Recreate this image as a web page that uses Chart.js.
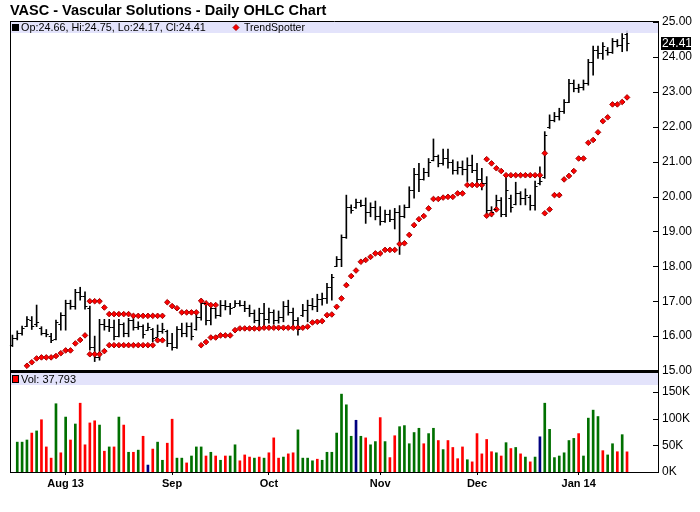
<!DOCTYPE html>
<html><head><meta charset="utf-8">
<script src="https://cdn.jsdelivr.net/npm/chart.js@4.4.0/dist/chart.umd.min.js"></script>
<style>
html,body{margin:0;padding:0;background:#fff;}
#wrap{position:relative;width:700px;height:512px;background:#fff;}
#wrap canvas{position:absolute;left:0;top:0;}
</style></head><body>
<div id="wrap"><canvas id="price" width="700" height="512"></canvas><canvas id="vol" width="700" height="512"></canvas></div>
<script>
const chartTitle = 'VASC - Vascular Solutions - Daily OHLC Chart';

const openP = [
15.75,15.95,16.08,16.30,16.45,16.35,16.22,16.10,16.00,15.92,
16.35,16.60,16.95,16.85,17.25,17.15,16.80,15.70,15.40,16.35,
16.30,16.25,16.00,16.35,16.10,16.45,16.25,16.30,16.18,16.20,
15.98,16.15,16.15,15.80,15.70,16.20,16.10,16.30,16.20,16.55,
16.95,16.45,16.80,16.60,16.90,16.85,16.84,16.95,16.90,16.80,
16.65,16.45,16.65,16.50,16.70,16.45,16.55,16.85,16.70,16.45,
16.60,16.75,16.90,16.85,17.05,17.10,17.40,18.00,18.20,18.85,
19.70,19.70,19.85,19.75,19.55,19.70,19.45,19.30,19.50,19.35,
19.55,19.45,19.70,20.20,20.65,20.50,20.70,21.05,21.15,20.95,
21.10,21.00,20.75,20.85,20.80,20.90,20.75,20.50,20.40,19.60,
19.65,19.90,19.50,19.95,19.80,20.10,19.95,20.00,19.75,20.40,
20.55,22.00,22.20,22.30,22.45,22.70,23.25,23.10,23.15,23.25,
23.85,24.20,24.10,24.20,24.15,24.45,24.35,24.66];
const highP = [
16.03,16.15,16.29,16.56,16.56,16.89,16.27,16.19,16.08,16.46,
16.67,17.03,17.03,17.34,17.40,17.27,16.86,16.00,16.48,16.48,
16.48,16.46,16.48,16.38,16.51,16.56,16.41,16.32,16.37,16.22,
16.32,16.37,16.17,16.08,16.27,16.37,16.38,16.38,16.70,17.05,
16.96,16.92,16.80,17.02,17.02,16.94,17.02,17.02,17.00,16.89,
16.75,16.80,16.94,16.80,16.75,16.72,16.99,17.03,16.80,16.53,
16.91,17.03,17.08,17.20,17.23,17.51,17.77,18.28,18.90,20.04,
19.76,19.93,19.90,19.96,19.82,19.87,19.71,19.61,19.61,19.66,
19.74,19.76,20.28,20.81,20.95,20.81,21.09,21.65,21.19,21.36,
21.36,21.05,21.00,21.02,21.11,21.19,20.95,20.81,20.57,19.71,
20.04,19.97,20.52,20.04,20.41,20.14,20.22,20.04,20.44,20.85,
21.86,22.34,22.41,22.53,22.78,23.36,23.34,23.22,23.34,23.93,
24.31,24.31,24.41,24.27,24.53,24.50,24.67,24.75];
const lowP = [
15.70,15.89,16.03,16.27,16.19,16.27,16.03,15.98,15.81,15.89,
16.17,16.17,16.77,16.77,17.03,16.77,15.60,15.27,15.31,16.17,
16.13,15.89,15.98,15.98,15.98,16.17,16.19,15.94,16.16,15.84,
15.98,16.08,15.70,15.60,15.65,15.98,15.98,15.89,16.17,16.46,
16.32,16.32,16.51,16.56,16.75,16.62,16.84,16.86,16.70,16.56,
16.38,16.22,16.32,16.37,16.34,16.37,16.41,16.60,16.32,16.03,
16.56,16.41,16.75,16.70,16.89,16.94,17.03,17.99,17.99,18.80,
19.52,19.66,19.71,19.23,19.42,19.33,19.18,19.26,19.28,19.07,
18.34,19.39,19.68,19.95,20.14,20.47,20.57,21.02,20.85,20.90,
20.81,20.64,20.64,20.62,20.43,20.68,20.38,20.19,19.47,19.42,
19.61,19.42,19.42,19.55,19.76,19.76,19.76,19.61,19.61,20.33,
20.52,21.95,22.14,22.19,22.38,22.69,23.00,22.98,23.05,23.19,
23.48,23.96,23.93,24.05,24.10,24.29,24.15,24.17];
const closeP = [
15.95,16.10,16.22,16.48,16.30,16.40,16.10,16.05,15.88,16.40,
16.60,16.95,16.85,17.25,17.15,16.85,15.70,15.40,16.35,16.30,
16.25,16.00,16.35,16.10,16.45,16.25,16.30,16.05,16.25,15.95,
16.15,16.20,15.80,15.70,16.20,16.10,16.30,16.00,16.55,16.95,
16.45,16.80,16.60,16.90,16.85,16.80,16.95,16.90,16.80,16.65,
16.45,16.65,16.50,16.70,16.45,16.55,16.85,16.70,16.45,16.20,
16.75,16.90,16.85,17.05,17.10,17.40,17.70,18.20,18.85,19.70,
19.60,19.85,19.75,19.55,19.70,19.45,19.30,19.50,19.35,19.55,
19.45,19.70,20.20,20.65,20.50,20.70,21.00,21.15,20.95,21.10,
21.00,20.75,20.85,20.80,20.90,20.75,20.50,20.40,19.60,19.55,
19.90,19.50,20.20,19.70,20.10,19.95,20.05,19.75,20.30,20.45,
21.75,22.20,22.30,22.45,22.70,23.25,23.10,23.15,23.25,23.85,
24.20,24.10,24.30,24.15,24.45,24.35,24.55,24.41];

const trendLow = [
null,null,null,15.15,15.25,15.36,15.39,15.39,15.39,15.43,
15.51,15.59,15.59,15.79,15.89,16.02,15.48,15.48,15.48,15.57,
15.74,15.74,15.74,15.74,15.74,15.74,15.74,15.74,15.74,15.74,
15.88,15.88,null,null,null,null,null,null,null,15.74,
15.83,15.96,15.96,16.02,16.02,16.02,16.17,16.22,16.22,16.22,
16.22,16.22,16.24,16.24,16.24,16.24,16.24,16.24,16.24,16.24,
16.24,16.27,16.39,16.41,16.43,16.60,16.62,16.84,17.08,17.46,
17.72,17.88,18.13,18.18,18.27,18.37,18.37,18.47,18.47,18.47,
18.64,18.66,18.90,19.18,19.35,19.44,19.66,19.93,19.93,19.97,
19.99,19.99,20.09,20.09,20.33,20.33,20.33,20.33,19.45,19.50,
19.63,null,null,null,null,null,null,null,null,null,
19.52,19.63,20.04,20.04,20.49,20.59,20.73,21.09,21.09,21.54,
21.62,21.84,22.16,22.27,22.64,22.64,22.71,22.84];
const trendHigh = [
null,null,null,null,null,null,null,null,null,null,
null,null,null,null,null,null,17.00,17.00,17.00,16.82,
16.63,16.63,16.63,16.63,16.63,16.58,16.58,16.58,16.58,16.58,
16.58,16.58,16.97,16.86,16.80,16.68,16.68,16.68,16.68,17.01,
16.94,16.89,16.89,null,null,null,null,null,null,null,
null,null,null,null,null,null,null,null,null,null,
null,null,null,null,null,null,null,null,null,null,
null,null,null,null,null,null,null,null,null,null,
null,null,null,null,null,null,null,null,null,null,
null,null,null,null,null,null,null,null,21.07,20.95,
20.81,20.73,20.61,20.61,20.61,20.61,20.61,20.61,20.61,20.61,
21.24,null,null,null,null,null,null,null,null,null,
null,null,null,null,null,null,null,null];

const volume = [
null,56000,56000,60000,73000,77000,98000,47000,26000,128000,
36000,103000,60000,90000,129000,51000,92000,96000,88000,39000,
47000,47000,103000,88000,37000,37000,41000,67000,13000,43000,
56000,22000,54000,99000,26000,26000,17000,30000,47000,47000,
30000,37000,30000,22000,30000,30000,51000,21000,32000,28000,
26000,28000,26000,36000,64000,26000,28000,34000,36000,79000,
26000,26000,21000,24000,22000,37000,37000,73000,146000,126000,
67000,97000,67000,64000,51000,57000,102000,57000,27000,68000,
85000,87000,53000,74000,82000,53000,72000,82000,59000,42000,
59000,46000,25000,47000,23000,19000,72000,34000,61000,38000,
36000,30000,55000,44000,46000,34000,28000,19000,28000,66000,
129000,80000,27000,30000,36000,59000,63000,72000,30000,101000,
116000,104000,40000,32000,53000,38000,70000,37793];
// u = close up, d = close down, n = unchanged
const volDir = [
'','u','u','u','d','u','d','d','d','u',
'd','u','d','u','d','d','d','d','u','d',
'u','d','u','d','u','d','u','d','n','d',
'u','u','d','d','u','u','d','u','u','u',
'd','u','d','u','d','u','u','d','d','d',
'u','d','u','d','d','d','u','d','d','u',
'u','u','u','d','u','u','u','u','u','u',
'u','n','u','d','u','u','d','u','d','d',
'u','u','u','u','u','d','u','u','d','u',
'd','d','d','d','u','d','d','d','d','d',
'u','d','u','d','u','d','u','d','u','n',
'u','u','u','u','u','u','u','d','u','u',
'u','u','d','u','u','d','u','d'];

const monthTicks = [11, 33, 53, 76, 96, 117];
const monthLabels = ['Aug 13', 'Sep', 'Oct', 'Nov', 'Dec', 'Jan 14'];
const priceTicks = [15,16,17,18,19,20,21,22,23,24,25];
const volTicks = [0,50000,100000,150000];

// ---------- rendering ----------
const FONT = "'Liberation Sans', Arial, Helvetica, sans-serif";
Chart.defaults.font.family = FONT;
Chart.defaults.color = '#000';
const BAND = 'rgba(222,222,250,0.85)';
const dirColor = {u:'#007000', d:'#ff0000', n:'#000080', '':'#000'};
const idx = openP.map((_, i) => i);
const last = idx.length - 1;
const XMIN = -0.5, XMAX = 133.4;

const hlData = idx.map(i => ({x: i, y: [lowP[i], highP[i]]}));
const trendData = [];
idx.forEach(i => {
  if (trendHigh[i] != null) trendData.push({x: i, y: trendHigh[i]});
  if (trendLow[i] != null) trendData.push({x: i, y: trendLow[i]});
});

function innerTicks(ctx, a, scale, vals) {
  ctx.beginPath();
  vals.forEach(v => {
    const py = Math.round(scale.getPixelForValue(v)) + 0.5;
    ctx.moveTo(a.right - 5, py); ctx.lineTo(a.right, py);
  });
  ctx.stroke();
}

const pricePlugin = {
  id: 'pricePlugin',
  afterDatasetsDraw(chart) {
    const {ctx, scales: {x, y}} = chart;
    ctx.save();
    ctx.strokeStyle = '#000'; ctx.lineWidth = 1;
    ctx.beginPath();
    idx.forEach(i => {
      const px = x.getPixelForValue(i);
      const po = Math.round(y.getPixelForValue(openP[i])) + 0.5;
      const pc = Math.round(y.getPixelForValue(closeP[i])) + 0.5;
      ctx.moveTo(px - 2.5, po); ctx.lineTo(px, po);
      ctx.moveTo(px, pc); ctx.lineTo(px + 2.5, pc);
    });
    ctx.stroke();
    ctx.restore();
  },
  afterDraw(chart) {
    const {ctx, chartArea: a, scales: {y}} = chart;
    ctx.save();
    // title
    ctx.fillStyle = '#000';
    ctx.font = 'bold 14.5px ' + FONT;
    ctx.textBaseline = 'alphabetic'; ctx.textAlign = 'left';
    ctx.fillText(chartTitle, 10, 15);
    // legend band
    ctx.fillStyle = BAND;
    ctx.fillRect(a.left + 1, a.top + 1, a.right - a.left - 1, 11);
    ctx.fillStyle = '#000';
    ctx.fillRect(12, a.top + 3, 7, 7);
    ctx.font = '10.8px ' + FONT;
    ctx.textBaseline = 'middle';
    ctx.fillText('Op:' + openP[last].toFixed(2) + ', Hi:' + highP[last].toFixed(2) +
      ', Lo:' + lowP[last].toFixed(2) + ', Cl:' + closeP[last].toFixed(2), 21, a.top + 7);
    // trendspotter legend marker
    ctx.fillStyle = '#ff0000'; ctx.strokeStyle = '#a00000';
    const dx = 236, dy = a.top + 6.5;
    ctx.beginPath();
    ctx.moveTo(dx, dy - 3); ctx.lineTo(dx + 3, dy); ctx.lineTo(dx, dy + 3); ctx.lineTo(dx - 3, dy); ctx.closePath();
    ctx.fill(); ctx.stroke();
    ctx.fillStyle = '#000';
    ctx.font = '10.5px ' + FONT;
    ctx.fillText('TrendSpotter', 244, a.top + 7);
    // frame
    ctx.strokeStyle = '#000'; ctx.lineWidth = 1;
    ctx.beginPath();
    ctx.moveTo(a.left + 0.5, a.top + 0.5); ctx.lineTo(a.right + 0.5, a.top + 0.5);
    ctx.moveTo(a.left + 0.5, a.top); ctx.lineTo(a.left + 0.5, a.bottom);
    ctx.stroke();
    innerTicks(ctx, a, y, priceTicks);
    // separator
    ctx.fillStyle = '#000';
    ctx.fillRect(a.left, a.bottom - 1, a.right - a.left + 1, 3);
    // last price box
    const py = Math.round(y.getPixelForValue(closeP[last]));
    ctx.fillStyle = '#000';
    ctx.fillRect(a.right + 3, py - 6, 30, 13);
    ctx.fillStyle = '#fff';
    ctx.font = '12px ' + FONT;
    ctx.textBaseline = 'middle';
    ctx.fillText(closeP[last].toFixed(2), a.right + 4, py + 1);
    ctx.restore();
  }
};

new Chart(document.getElementById('price'), {
  type: 'bar',
  data: {datasets: [
    {type: 'scatter', label: 'TrendSpotter', data: trendData, pointStyle: 'rectRot',
     radius: 2.8, backgroundColor: '#ff0000', borderColor: '#a00000', borderWidth: 1, order: 0},
    {type: 'bar', label: 'OHLC', data: hlData, backgroundColor: '#000', barThickness: 1,
     grouped: false, order: 1}
  ]},
  options: {
    responsive: false, animation: false, devicePixelRatio: 1,
    layout: {padding: {left: 10, top: 21, right: 0, bottom: 141}},
    plugins: {legend: {display: false}, tooltip: {enabled: false}},
    scales: {
      x: {type: 'linear', min: XMIN, max: XMAX, display: false, offset: false},
      y: {position: 'right', min: 15, max: 25.03,
          afterBuildTicks: s => { s.ticks = priceTicks.map(v => ({value: v})); },
          afterFit: s => { s.width = 42; },
          grid: {display: false, drawTicks: false},
          border: {display: true, color: '#000'},
          ticks: {padding: 4, font: {size: 12}, color: '#000', callback: v => Number(v).toFixed(2)}}
    }
  },
  plugins: [pricePlugin]
});

const volPlugin = {
  id: 'volPlugin',
  afterDraw(chart) {
    const {ctx, chartArea: a, scales: {y}} = chart;
    ctx.save();
    ctx.fillStyle = BAND;
    ctx.fillRect(a.left + 1, a.top + 1, a.right - a.left - 1, 12);
    ctx.fillStyle = dirColor[volDir[last]];
    ctx.fillRect(12, a.top + 3, 7, 8);
    ctx.strokeStyle = '#000'; ctx.lineWidth = 1;
    ctx.strokeRect(12.5, a.top + 3.5, 6, 7);
    ctx.fillStyle = '#000';
    ctx.font = '11px ' + FONT;
    ctx.textBaseline = 'middle';
    ctx.fillText('Vol: ' + volume[last].toLocaleString('en-US'), 21, a.top + 7.5);
    ctx.beginPath();
    ctx.moveTo(a.left + 0.5, a.top); ctx.lineTo(a.left + 0.5, a.bottom);
    ctx.stroke();
    innerTicks(ctx, a, y, volTicks);
    ctx.restore();
  }
};

new Chart(document.getElementById('vol'), {
  type: 'bar',
  data: {datasets: [{label: 'Volume', data: idx.map(i => ({x: i, y: volume[i]})),
    backgroundColor: idx.map(i => dirColor[volDir[i]]), barThickness: 2}]},
  options: {
    responsive: false, animation: false, devicePixelRatio: 1,
    layout: {padding: {left: 10, top: 372, right: 0, bottom: 16}},
    plugins: {legend: {display: false}, tooltip: {enabled: false}},
    scales: {
      x: {type: 'linear', min: XMIN, max: XMAX, offset: false,
          afterBuildTicks: s => { s.ticks = monthTicks.map(v => ({value: v})); },
          afterFit: s => { s.height = 24; },
          grid: {display: true, offset: false, drawOnChartArea: false, drawTicks: true, tickLength: 3, color: '#000'},
          border: {display: true, color: '#000'},
          ticks: {autoSkip: false, maxRotation: 0, padding: 2, font: {size: 11, weight: 'bold'}, color: '#000',
                  callback: v => monthLabels[monthTicks.indexOf(v)]}},
      y: {position: 'right', min: 0, max: 187500,
          afterBuildTicks: s => { s.ticks = volTicks.map(v => ({value: v})); },
          afterFit: s => { s.width = 42; },
          grid: {display: false, drawTicks: false},
          border: {display: true, color: '#000'},
          ticks: {padding: 4, font: {size: 12}, color: '#000', callback: v => (v / 1000) + 'K'}}
    }
  },
  plugins: [volPlugin]
});
</script>
</body></html>
